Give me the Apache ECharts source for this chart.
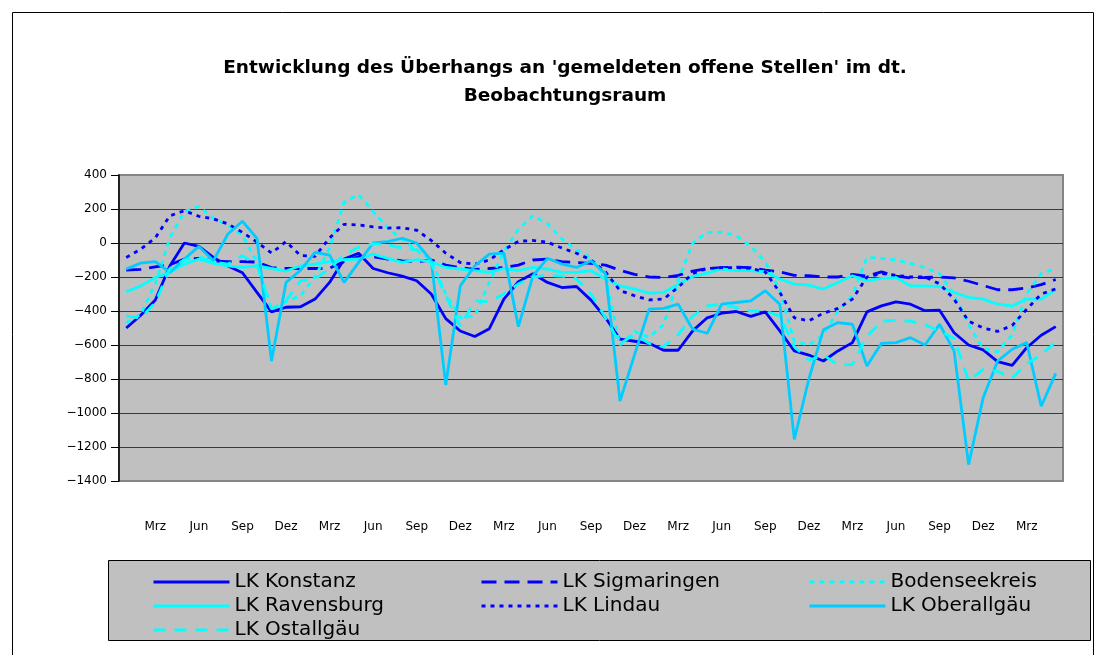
<!DOCTYPE html>
<html>
<head>
<meta charset="utf-8">
<script src="https://cdn.jsdelivr.net/npm/echarts@6/dist/echarts.min.js"></script>
<style>html,body{margin:0;padding:0;background:#fff}#c{width:1105px;height:655px}</style>
</head>
<body>
<div id="c"></div>
<script>
var monthNames = ['Jan','Feb','Mrz','Apr','Mai','Jun','Jul','Aug','Sep','Okt','Nov','Dez'];
var categories = [];
for (var k = 0; k < 65; k++) categories.push(monthNames[k % 12]);

var yTicks = { min: -1400, max: 400, step: 200 };

var konstanz = [-500,-425,-335,-135,0,-20,-85,-135,-175,-290,-405,-378,-375,-330,-232,-95,-60,-150,-175,-195,-222,-300,-445,-518,-550,-504,-330,-228,-180,-232,-262,-256,-336,-440,-566,-578,-590,-631,-631,-517,-440,-413,-403,-432,-405,-517,-635,-659,-694,-635,-586,-405,-370,-346,-360,-398,-395,-528,-600,-629,-698,-720,-616,-543,-492];
var sigmaringen = [-160,-155,-140,-128,-95,-90,-105,-110,-110,-112,-145,-150,-150,-150,-148,-110,-80,-80,-95,-105,-110,-100,-130,-145,-155,-150,-145,-130,-100,-95,-110,-115,-120,-130,-160,-185,-200,-203,-190,-165,-150,-145,-142,-145,-160,-170,-190,-192,-200,-200,-185,-195,-170,-195,-205,-203,-200,-205,-225,-250,-275,-275,-265,-245,-215];
var bodensee = [-470,-420,-240,30,185,215,145,105,45,-110,-390,-345,-310,-200,-30,240,285,185,90,20,-40,-100,-300,-440,-430,-230,-50,80,160,115,25,-40,-90,-200,-600,-520,-555,-480,-220,0,63,63,45,-20,-110,-280,-580,-600,-540,-400,-310,-85,-90,-100,-120,-145,-180,-300,-480,-620,-640,-540,-300,-180,-150];
var ravensburg = [-287,-252,-203,-173,-124,-94,-120,-134,-144,-134,-150,-165,-134,-124,-110,-98,-94,-65,-90,-114,-98,-110,-144,-153,-163,-173,-150,-163,-144,-153,-173,-173,-163,-212,-252,-271,-295,-291,-242,-197,-177,-153,-163,-163,-169,-212,-242,-248,-271,-232,-193,-222,-208,-203,-252,-252,-256,-291,-320,-330,-360,-370,-330,-330,-275];
var lindau = [-85,-36,30,160,190,157,142,112,63,5,-59,8,-74,-78,30,110,106,95,88,90,75,15,-60,-115,-125,-100,-40,10,15,5,-30,-60,-100,-170,-280,-310,-335,-330,-260,-180,-150,-145,-145,-150,-170,-290,-440,-458,-413,-385,-330,-200,-180,-190,-200,-200,-240,-330,-460,-500,-520,-485,-390,-300,-270];
var oberallgaeu = [-153,-118,-110,-173,-94,-20,-104,53,128,27,-694,-232,-160,-55,-71,-232,-114,0,8,28,0,-104,-835,-252,-134,-65,-59,-492,-193,-90,-124,-144,-104,-180,-930,-657,-389,-384,-360,-507,-531,-360,-350,-340,-281,-360,-1155,-800,-511,-468,-478,-724,-590,-586,-557,-600,-478,-635,-1304,-911,-694,-625,-586,-960,-767];
var ostallgaeu = [-430,-440,-350,-150,-100,-80,-113,-124,-74,-130,-389,-340,-222,-212,-150,-70,-25,-5,-10,-30,-40,-120,-310,-490,-340,-345,-300,-240,-200,-190,-195,-210,-300,-440,-590,-540,-590,-610,-540,-430,-370,-360,-380,-400,-400,-430,-610,-690,-660,-715,-715,-550,-460,-455,-460,-480,-520,-560,-810,-745,-755,-795,-710,-660,-580];

var FONT = 'DejaVu Sans';
var BLUE = '#0000ff', CYAN = '#00ffff', SKY = '#00ccff';

function mk(name, data, color, type) {
  return {
    name: name, type: 'line', data: data, symbol: 'none', showSymbol: false,
    lineStyle: { color: color, width: 2.8, type: type, cap: 'butt' },
    itemStyle: { color: color }, animation: false
  };
}

var chart = echarts.init(document.getElementById('c'), null, { renderer: 'canvas' });
var legendText = { fontFamily: FONT, fontSize: 20, color: '#000', lineHeight: 20 };
function lg(left, names) {
  return { orient: 'vertical', left: left, top: 567, itemWidth: 76, itemHeight: 14, itemGap: 4,
    textStyle: legendText, data: names, z: 10,
    itemStyle: { opacity: 0 }, lineStyle: { width: 3 } };
}
chart.setOption({
  animation: false,
  backgroundColor: '#ffffff',
  graphic: [
    { type: 'rect', z: -1, shape: { x: 12.5, y: 12.5, width: 1081, height: 700 }, style: { fill: 'none', stroke: '#000', lineWidth: 1 } },
    { type: 'rect', z: -1, shape: { x: 108.5, y: 560.5, width: 982, height: 80 }, style: { fill: '#c0c0c0', stroke: '#000', lineWidth: 1 } },
    { type: 'text', x: 565, y: 54, style: { text: "Entwicklung des Überhangs an 'gemeldeten offene Stellen' im dt.\nBeobachtungsraum", font: 'bold 18.5px ' + FONT, fill: '#000', textAlign: 'center', lineHeight: 28 } }
  ],
  grid: { left: 119, top: 175, width: 944, height: 306, show: true, backgroundColor: '#c0c0c0', borderColor: '#858585', borderWidth: 2 },
  xAxis: {
    type: 'category', data: categories, boundaryGap: true,
    axisLine: { show: false }, axisTick: { show: false },
    axisLabel: { interval: function (i) { return i % 3 === 2; }, margin: 40, fontFamily: FONT, fontSize: 12, color: '#000' },
    splitLine: { show: false }
  },
  yAxis: {
    type: 'value', min: yTicks.min, max: yTicks.max, interval: yTicks.step,
    axisLine: { show: true, lineStyle: { color: '#000', width: 1.5 } },
    axisTick: { show: true, length: 8, lineStyle: { color: '#000' } },
    axisLabel: { margin: 12, fontFamily: FONT, fontSize: 12, color: '#000', formatter: function (v) { return v < 0 ? '\u2212' + Math.abs(v) : String(v); } },
    splitLine: { show: true, showMinLine: false, showMaxLine: false, lineStyle: { color: '#3a3a3a', width: 1 } }
  },
  legend: [
    lg(147, ['LK Konstanz', 'LK Ravensburg', 'LK Ostallgäu']),
    lg(475, ['LK Sigmaringen', 'LK Lindau']),
    lg(803, ['Bodenseekreis', 'LK Oberallgäu'])
  ],
  series: [
    mk('LK Konstanz', konstanz, BLUE, 'solid'),
    mk('LK Sigmaringen', sigmaringen, BLUE, [15, 8]),
    mk('Bodenseekreis', bodensee, CYAN, [5, 5]),
    mk('LK Ravensburg', ravensburg, CYAN, 'solid'),
    mk('LK Lindau', lindau, BLUE, [4, 5]),
    mk('LK Oberallgäu', oberallgaeu, SKY, 'solid'),
    mk('LK Ostallgäu', ostallgaeu, CYAN, [12, 9])
  ]
});
</script>
</body>
</html>
